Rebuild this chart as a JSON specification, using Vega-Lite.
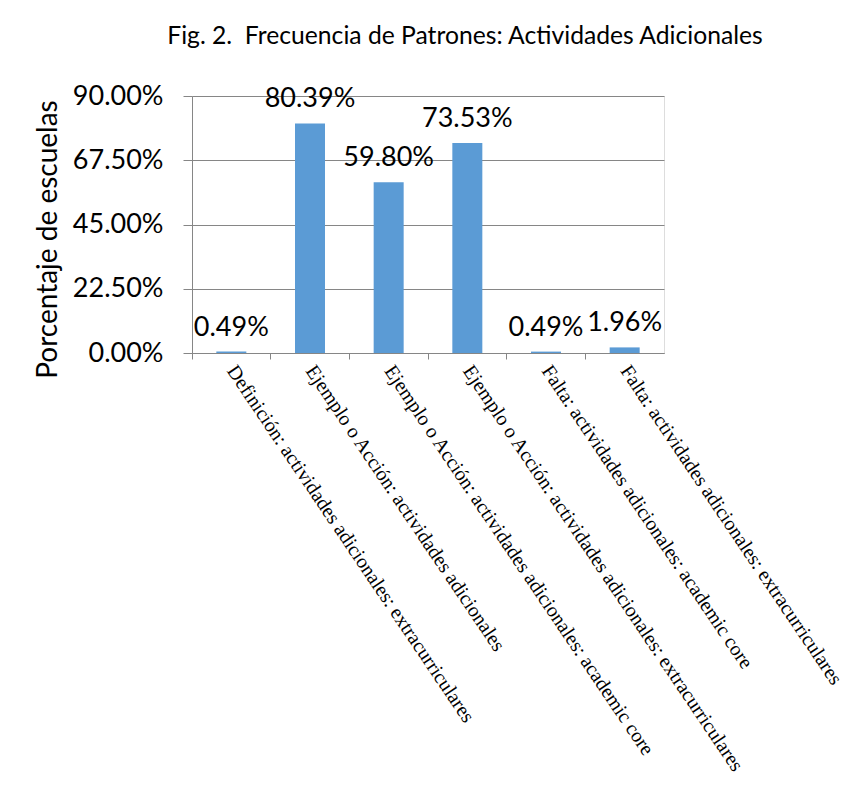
{
  "$schema": "https://vega.github.io/schema/vega-lite/v6.json",
  "autosize": {"type": "none"},
  "padding": {"left": 192, "top": 96, "right": 183, "bottom": 433},
  "width": 472,
  "height": 257,
  "background": "white",
  "title": {
    "text": "Fig. 2.\u00a0 Frecuencia de Patrones: Actividades Adicionales",
    "font": "Lato",
    "fontSize": 24.7,
    "fontWeight": "normal",
    "color": "black",
    "anchor": "middle",
    "dx": 37,
    "offset": 33
  },
  "data": {
    "values": [
      {"patron": "Definición: actividades adicionales: extracurriculares", "pct": 0.0049},
      {"patron": "Ejemplo o Acción: actividades adicionales", "pct": 0.8039},
      {"patron": "Ejemplo o Acción: actividades adicionales: academic core", "pct": 0.598},
      {"patron": "Ejemplo o Acción: actividades adicionales: extracurriculares", "pct": 0.7353},
      {"patron": "Falta: actividades adicionales: academic core", "pct": 0.0049},
      {"patron": "Falta: actividades adicionales: extracurriculares", "pct": 0.0196}
    ]
  },
  "encoding": {
    "x": {
      "field": "patron",
      "type": "nominal",
      "sort": null,
      "scale": {"paddingInner": 0, "paddingOuter": 0},
      "axis": {
        "title": null,
        "bandPosition": 0,
        "labelAngle": 56,
        "labelAlign": "left",
        "labelBaseline": "middle",
        "labelFont": "Liberation Serif",
        "labelFontSize": 20,
        "labelColor": "black",
        "labelLimit": 1000,
        "labelPadding": 8,
        "tickSize": 6,
        "tickColor": "#868686",
        "domainColor": "#868686",
        "grid": false
      }
    },
    "y": {
      "field": "pct",
      "type": "quantitative",
      "scale": {"domain": [0, 0.9]},
      "axis": {
        "title": "Porcentaje de escuelas",
        "titleFont": "Lato",
        "titleFontSize": 28,
        "titleFontWeight": "normal",
        "titleColor": "black",
        "titlePadding": 10,
        "titleY": 143,
        "values": [0, 0.225, 0.45, 0.675, 0.9],
        "format": ".2%",
        "labelFont": "Lato",
        "labelFontSize": 27,
        "labelColor": "black",
        "labelPadding": 20,
        "tickSize": 9,
        "tickColor": "#868686",
        "domainColor": "#868686",
        "gridColor": "#868686",
        "gridOpacity": 1
      }
    }
  },
  "layer": [
    {"mark": {"type": "bar", "color": "#5B9BD5", "width": 30}},
    {
      "mark": {"type": "text", "dy": -16, "baseline": "alphabetic", "font": "Lato", "fontSize": 27, "color": "black"},
      "encoding": {"text": {"field": "pct", "type": "quantitative", "format": ".2%"}}
    }
  ]
}
